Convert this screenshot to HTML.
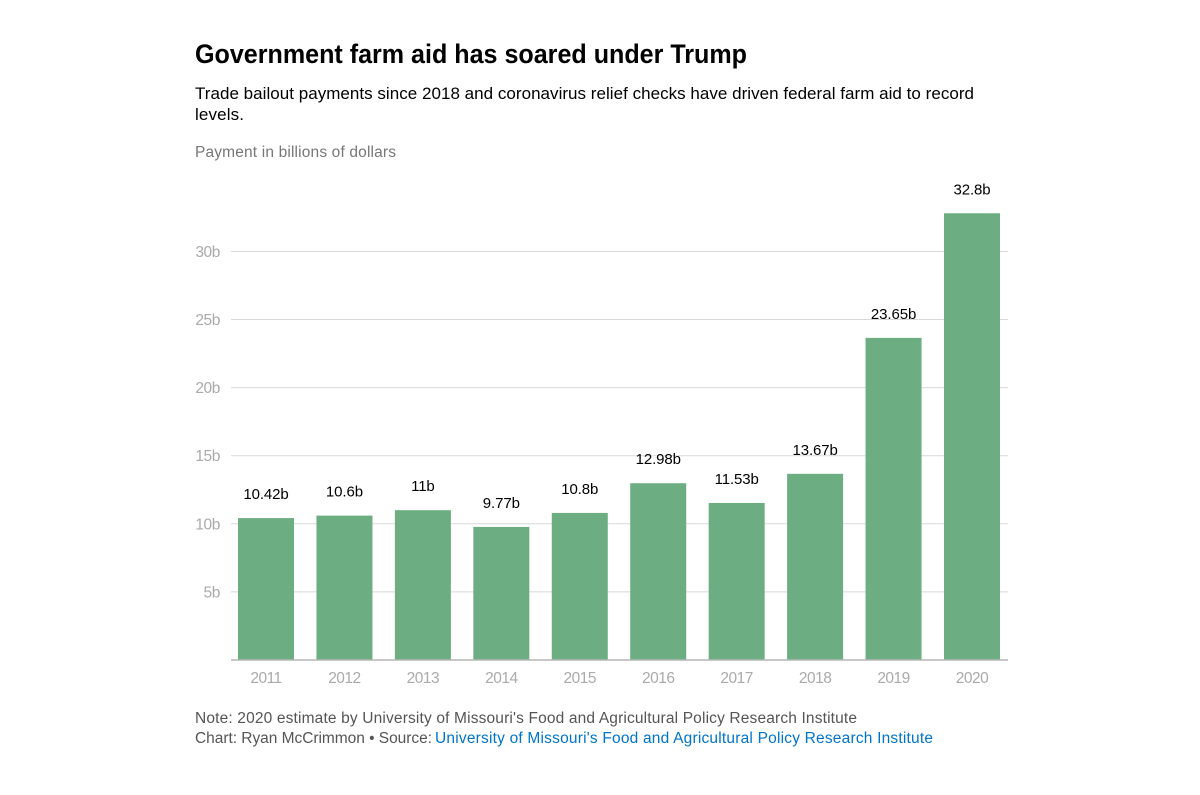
<!DOCTYPE html>
<html lang="en">
<head>
<meta charset="utf-8">
<title>Government farm aid has soared under Trump</title>
<style>
  html, body { margin: 0; padding: 0; background: #fff; }
  body { width: 1200px; height: 795px; overflow: hidden; }
  svg { display: block; font-family: "Liberation Sans", sans-serif; }
  a { text-decoration: none; }
</style>
</head>
<body>
<svg id="chart" width="1200" height="795" viewBox="0 0 1200 795" xmlns="http://www.w3.org/2000/svg">
  <text x="195" y="63" font-size="27" font-weight="700" fill="#000" textLength="552" lengthAdjust="spacingAndGlyphs">Government farm aid has soared under Trump</text>
  <text x="195" y="99" font-size="17" fill="#000" textLength="779" lengthAdjust="spacing">Trade bailout payments since 2018 and coronavirus relief checks have driven federal farm aid to record</text>
  <text x="195" y="120" font-size="17" fill="#000" textLength="49" lengthAdjust="spacing">levels.</text>
  <text x="195" y="157" font-size="15.5" fill="#777" textLength="201" lengthAdjust="spacing">Payment in billions of dollars</text>
  <g id="grid"></g>
  <g id="bars"></g>
  <g id="values"></g>
  <g id="xaxis"></g>
  <text x="195" y="723" font-size="15.5" fill="#555" textLength="662" lengthAdjust="spacing">Note: 2020 estimate by University of Missouri's Food and Agricultural Policy Research Institute</text>
  <text x="195" y="743" font-size="15.5" fill="#555" textLength="237" lengthAdjust="spacing">Chart: Ryan McCrimmon • Source:</text>
  <a href="#"><text x="435" y="743" font-size="15.5" fill="#0074c7" textLength="498" lengthAdjust="spacing">University of Missouri's Food and Agricultural Policy Research Institute</text></a>
</svg>
<script>
const categories = ['2011', '2012', '2013', '2014', '2015', '2016', '2017', '2018', '2019', '2020'];
const paymentValues = [10.42, 10.6, 11, 9.77, 10.8, 12.98, 11.53, 13.67, 23.65, 32.8];
const valueLabels = ['10.42b', '10.6b', '11b', '9.77b', '10.8b', '12.98b', '11.53b', '13.67b', '23.65b', '32.8b'];
const yTicks = [5, 10, 15, 20, 25, 30];
const yTickLabels = ['5b', '10b', '15b', '20b', '25b', '30b'];

const SVG_NS = 'http://www.w3.org/2000/svg';
const plotLeft = 231, plotRight = 1008, baseY = 660, unitPx = 13.62;
const bandFirst = 238, bandLast = 944, barWidth = 56;

function yScale(v) { return baseY - v * unitPx; }
function xScale(i) { return bandFirst + i * (bandLast - bandFirst) / (categories.length - 1); }
function make(tag, attrs, text) {
  const el = document.createElementNS(SVG_NS, tag);
  Object.keys(attrs).forEach(function (k) { el.setAttribute(k, attrs[k]); });
  if (text !== undefined) el.textContent = text;
  return el;
}

const grid = document.getElementById('grid');
const bars = document.getElementById('bars');
const values = document.getElementById('values');
const xaxis = document.getElementById('xaxis');

yTicks.forEach(function (t, i) {
  const line = make('line', { x1: plotLeft, x2: plotRight, y1: yScale(t), y2: yScale(t), stroke: '#d8d8d8', 'stroke-width': 1 });
  
  
  grid.appendChild(line);
  const label = make('text', { x: 220, y: yScale(t) + 5.5, 'text-anchor': 'end', 'font-size': 15.5, fill: '#aaa', 'letter-spacing': '-0.4' }, yTickLabels[i]);
  
  
  grid.appendChild(label);
});

paymentValues.forEach(function (v, i) {
  const x = xScale(i), top = yScale(v), cx = x + barWidth / 2;
  const bar = make('rect', { x: x, y: top, width: barWidth, height: baseY - top, fill: '#6cae82' });
  
  
  bars.appendChild(bar);
  const val = make('text', { x: cx, y: top - 19, 'text-anchor': 'middle', 'font-size': 15, fill: '#000', 'letter-spacing': '-0.1' }, valueLabels[i]);
  
  
  values.appendChild(val);
  const tick = make('text', { x: cx, y: 683, 'text-anchor': 'middle', 'font-size': 15.5, fill: '#aaa', 'letter-spacing': '-0.5' }, categories[i]);
  
  
  xaxis.appendChild(tick);
});

const axisLine = make('line', { x1: plotLeft, x2: plotRight, y1: baseY, y2: baseY, stroke: '#b5b5b5', 'stroke-width': 1.5 });


xaxis.appendChild(axisLine);
</script>
</body>
</html>
